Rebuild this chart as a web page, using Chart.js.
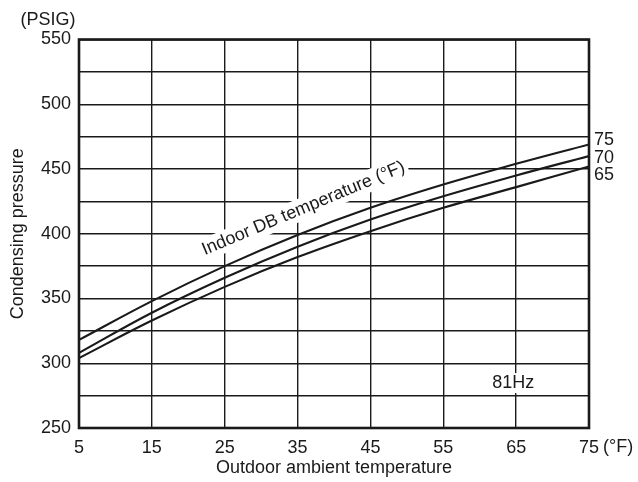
<!DOCTYPE html>
<html>
<head>
<meta charset="utf-8">
<script src="https://cdn.jsdelivr.net/npm/chart.js@4"></script>
<style>
  html, body { margin: 0; padding: 0; background: #fff; }
  canvas { display: block; }
</style>
</head>
<body>
<canvas id="chart" width="638" height="482"></canvas>
<script>
// outdoor ambient temperature (°F)
const outdoorTemps = [5, 15, 25, 35, 45, 55, 65, 75];
// condensing pressure (PSIG) per indoor DB temperature
const indoor75 = [318, 348, 375, 399, 420, 438, 454, 469];
const indoor70 = [308, 339, 366, 390, 411, 429, 445, 460];
const indoor65 = [304, 333, 359, 382, 402, 420, 436, 452];
const seriesNames = ["75", "70", "65"];

const FONT = "'Liberation Sans', Arial, sans-serif";
const INK = "#1a1a1a";
const FS = 18;

function toPoints(ys) {
  return outdoorTemps.map((x, i) => ({ x: x, y: ys[i] }));
}

// frame + text annotations
const extras = {
  id: "extras",
  afterDraw(chart) {
    const { ctx, chartArea: a, scales: { x, y } } = chart;
    ctx.save();

    // heavy frame
    ctx.strokeStyle = INK;
    ctx.lineWidth = 2.6;
    ctx.strokeRect(a.left, a.top, a.right - a.left, a.bottom - a.top);

    ctx.fillStyle = INK;
    ctx.font = FS + "px " + FONT;
    ctx.textBaseline = "middle";

    // unit labels
    ctx.textAlign = "center";
    ctx.fillText("(PSIG)", 48, 20);
    ctx.textAlign = "left";
    ctx.fillText("(°F)", 603, 447);

    // curve names at right end
    const nameY = [472.5, 458.5, 445.5];
    seriesNames.forEach((n, i) => {
      ctx.fillText(n, x.getPixelForValue(75) + 5, y.getPixelForValue(nameY[i]));
    });

    // 81Hz with white backing
    const hx = x.getPixelForValue(64.6), hy = y.getPixelForValue(284.7);
    ctx.textAlign = "center";
    const hw = ctx.measureText("81Hz").width;
    ctx.fillStyle = "#fff";
    ctx.fillRect(hx - hw / 2 - 3, hy - 10, hw + 6, 20);
    ctx.fillStyle = INK;
    ctx.fillText("81Hz", hx, hy);

    // rotated label
    const rx = x.getPixelForValue(35.8), ry = y.getPixelForValue(419.5);
    ctx.translate(rx, ry);
    ctx.rotate(-22.7 * Math.PI / 180);
    const txt = "Indoor DB temperature (°F)";
    const tw = ctx.measureText(txt).width;
    ctx.fillStyle = "#fff";
    ctx.fillRect(-tw / 2 - 3, -11, tw + 6, 22);
    ctx.fillStyle = INK;
    ctx.fillText(txt, 0, 0);

    ctx.restore();
  }
};

Chart.defaults.font.family = FONT;
Chart.defaults.color = INK;

new Chart(document.getElementById("chart"), {
  type: "line",
  data: {
    datasets: [indoor75, indoor70, indoor65].map((d, i) => ({
      label: seriesNames[i],
      data: toPoints(d),
      borderColor: INK,
      borderWidth: 2.1,
      pointRadius: 0,
      fill: false,
      tension: 0.4
    }))
  },
  options: {
    responsive: false,
    devicePixelRatio: 1,
    animation: false,
    layout: { padding: { left: 0, right: 49, top: 39.5, bottom: 0 } },
    plugins: { legend: { display: false }, tooltip: { enabled: false } },
    scales: {
      x: {
        type: "linear",
        min: 5,
        max: 75,
        afterFit: s => { s.height = 54; },
        ticks: { stepSize: 10, padding: 9, font: { size: FS }, color: INK, maxRotation: 0 },
        grid: { color: INK, lineWidth: 1.4, drawTicks: false },
        border: { display: false },
        title: { display: true, text: "Outdoor ambient temperature", font: { size: FS }, color: INK, padding: { top: 0, bottom: 3 } }
      },
      y: {
        min: 250,
        max: 550,
        afterFit: s => { s.width = 79; },
        ticks: {
          stepSize: 25,
          padding: 8,
          font: { size: FS },
          color: INK,
          callback: v => (v % 50 === 0 ? String(v) : "")
        },
        grid: { color: INK, lineWidth: 1.4, drawTicks: false },
        border: { display: false },
        title: { display: true, text: "Condensing pressure", font: { size: FS }, color: INK, padding: { top: 7, bottom: 0 } }
      }
    }
  },
  plugins: [extras]
});
</script>
</body>
</html>
